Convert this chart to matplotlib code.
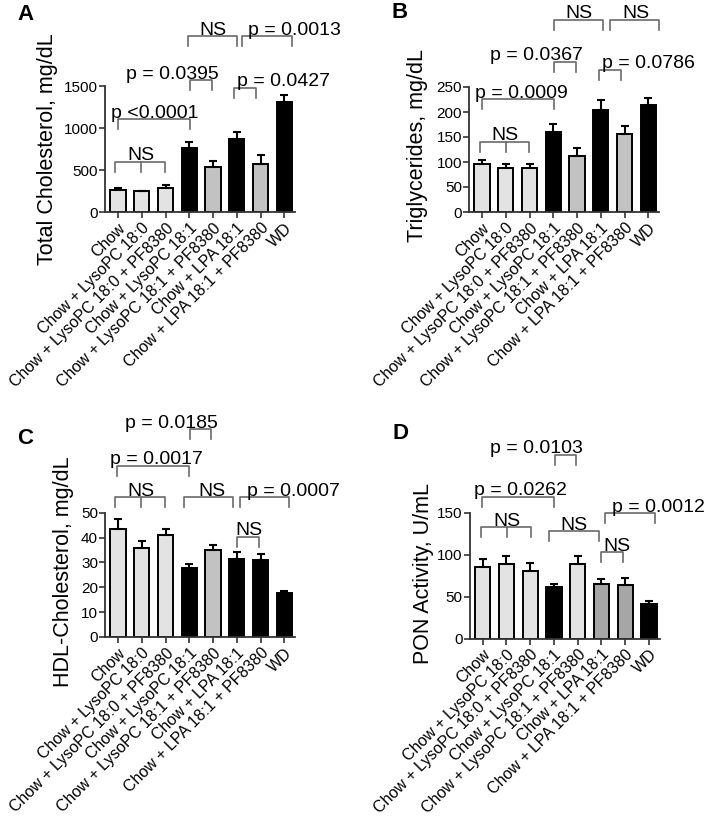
import matplotlib
matplotlib.use("Agg")
import matplotlib.pyplot as plt
import numpy as np

plt.rcParams['font.family'] = ['Liberation Sans', 'DejaVu Sans']

# ---------------- data ----------------
groups = ["Chow", "Chow + LysoPC 18:0", "Chow + LysoPC 18:0 + PF8380",
          "Chow + LysoPC 18:1", "Chow + LysoPC 18:1 + PF8380",
          "Chow + LPA 18:1", "Chow + LPA 18:1 + PF8380", "WD"]

tc_mean = [262, 247, 290, 762, 540, 868, 566, 1312]
tc_err = [18, 7, 28, 66, 70, 88, 108, 85]

tg_mean = [96, 89, 89, 161, 113, 204, 157, 215]
tg_err = [8, 8, 7, 15, 15, 21, 15, 14]

hdl_mean = [43.6, 35.6, 40.9, 27.6, 34.9, 31.2, 31.1, 17.5]
hdl_err = [4.0, 2.9, 2.6, 1.6, 2.2, 3.0, 2.3, 1.2]

pon_mean = [85, 89, 81, 61, 89, 65.5, 64, 41]
pon_err = [10, 9, 9, 4, 9, 5, 8.5, 4]

LIGHT = '#e3e3e3'
MID = '#c2c2c2'
DARK = '#a6a6a6'
BLACK = '#000000'
colors_A = [LIGHT, LIGHT, LIGHT, BLACK, MID, BLACK, MID, BLACK]
colors_B = [LIGHT, LIGHT, LIGHT, BLACK, MID, BLACK, MID, BLACK]
colors_C = [LIGHT, LIGHT, LIGHT, BLACK, MID, BLACK, BLACK, BLACK]
colors_D = [LIGHT, LIGHT, LIGHT, BLACK, LIGHT, DARK, DARK, BLACK]

# significance brackets: (x_left, x_right, y, label, label_x, mid_tick_x)
brackets_A = [(-0.11, 1.96, 600, "NS", 0.98, 0.98),
              (0.0, 3.01, 1103, "p <0.0001", 1.54, None),
              (3.01, 3.95, 1571, "p = 0.0395", 2.30, None),
              (4.9, 5.81, 1480, "p = 0.0427", 6.96, None),
              (2.94, 5.0, 2095, "NS", 3.99, None),
              (5.22, 7.32, 2095, "p = 0.0013", 7.42, None)]
brackets_B = [(-0.07, 1.99, 141, "NS", 0.98, 1.0),
              (0.0, 3.04, 226, "p = 0.0009", 1.67, None),
              (3.04, 3.95, 301, "p = 0.0367", 2.29, None),
              (4.93, 5.84, 285, "p = 0.0786", 6.99, None),
              (3.04, 5.1, 385, "NS", 4.09, None),
              (5.38, 7.45, 385, "NS", 6.49, None)]
brackets_C = [(-0.11, 1.96, 56.3, "NS", 0.98, 0.98),
              (-0.04, 2.97, 68.9, "p = 0.0017", 1.61, None),
              (3.01, 3.92, 83.6, "p = 0.0185", 2.24, None),
              (2.77, 4.83, 56.3, "NS", 3.95, None),
              (5.14, 7.21, 56.3, "p = 0.0007", 7.38, None),
              (5.0, 5.92, 40.4, "NS", 5.53, None)]
brackets_D = [(-0.07, 2.03, 132.5, "NS", 1.01, 1.04),
              (-0.04, 3.01, 169, "p = 0.0262", 1.59, None),
              (3.03, 3.94, 218.7, "p = 0.0103", 2.28, None),
              (2.8, 4.89, 128, "NS", 3.83, None),
              (5.17, 7.25, 149.2, "p = 0.0012", 7.42, None),
              (4.99, 5.92, 103, "NS", 5.66, None)]

ylabels = ["Total Cholesterol, mg/dL", "Triglycerides, mg/dL",
           "HDL-Cholesterol, mg/dL", "PON Activity, U/mL"]
yticks_all = [[0, 500, 1000, 1500], [0, 50, 100, 150, 200, 250],
              [0, 10, 20, 30, 40, 50], [0, 50, 100, 150]]
panel_letters = ["A", "B", "C", "D"]

# ---------------- layout (pixels) ----------------
W, H = 711, 817
fig = plt.figure(figsize=(W / 100, H / 100), dpi=100)

# left, y of zero, y of max (pixel coords from top-left)
rects_px = [(105, 212, 86), (469, 212, 87), (105, 637, 512.7), (469.6, 638.7, 512.7)]
ax_w_px = 190
ylabel_pos = [(48, 149), (418, 146), (64, 572), (424, 574)]
letter_pos = [(25, 14), (400, 12), (25, 438), (400, 433)]

means = [tc_mean, tg_mean, hdl_mean, pon_mean]
errs = [tc_err, tg_err, hdl_err, pon_err]
colors = [colors_A, colors_B, colors_C, colors_D]
brackets = [brackets_A, brackets_B, brackets_C, brackets_D]

x = np.arange(len(groups))
SPINE = '#333333'
BRK = '#6a6a6a'

for i in range(4):
    l, b0, t0 = rects_px[i]
    ax = fig.add_axes([l / W, 1 - b0 / H, ax_w_px / W, (b0 - t0) / H])
    ymax = yticks_all[i][-1]
    ax.bar(x, means[i], width=0.64, color=colors[i], edgecolor='black',
           linewidth=1.4, zorder=2)
    ax.errorbar(x, means[i], yerr=[np.zeros(len(x)), errs[i]], fmt='none',
                ecolor='black', elinewidth=1.5, capsize=3.2, capthick=1.5, zorder=3)
    ax.set_xlim(-0.55, 7.45)
    ax.set_ylim(0, ymax)
    ax.set_yticks(yticks_all[i])
    ax.set_xticks(x)
    ax.set_xticklabels(groups, rotation=45, ha='right', rotation_mode='anchor',
                       fontsize=11.5)
    ax.tick_params(axis='y', labelsize=11, length=4, width=1.2, color=SPINE, pad=1)
    ax.tick_params(axis='x', length=4, width=1.2, color=SPINE, pad=2)
    for s in ['top', 'right']:
        ax.spines[s].set_visible(False)
    for s in ['left', 'bottom']:
        ax.spines[s].set_color(SPINE)
        ax.spines[s].set_linewidth(1.3)

    drop = 10 * ymax / (b0 - t0)
    txt_off = 1.5 * ymax / (b0 - t0)
    for (xl, xr, yb, lab, lx, mid) in brackets[i]:
        ax.plot([xl, xl, xr, xr], [yb - drop, yb, yb, yb - drop], color=BRK,
                lw=1.2, clip_on=False, zorder=4)
        if mid is not None:
            ax.plot([mid, mid], [yb, yb - drop], color=BRK, lw=1.2,
                    clip_on=False, zorder=4)
        ax.text(lx, yb + txt_off, lab, ha='center', va='baseline', fontsize=14,
                clip_on=False, zorder=5)

    fig.text(ylabel_pos[i][0] / W, 1 - ylabel_pos[i][1] / H, ylabels[i],
             rotation=90, ha='center', va='center', fontsize=15.5)
    fig.text(letter_pos[i][0] / W, 1 - letter_pos[i][1] / H, panel_letters[i],
             ha='center', va='center', fontsize=16, fontweight='bold')

fig.savefig("out.png", dpi=100)
